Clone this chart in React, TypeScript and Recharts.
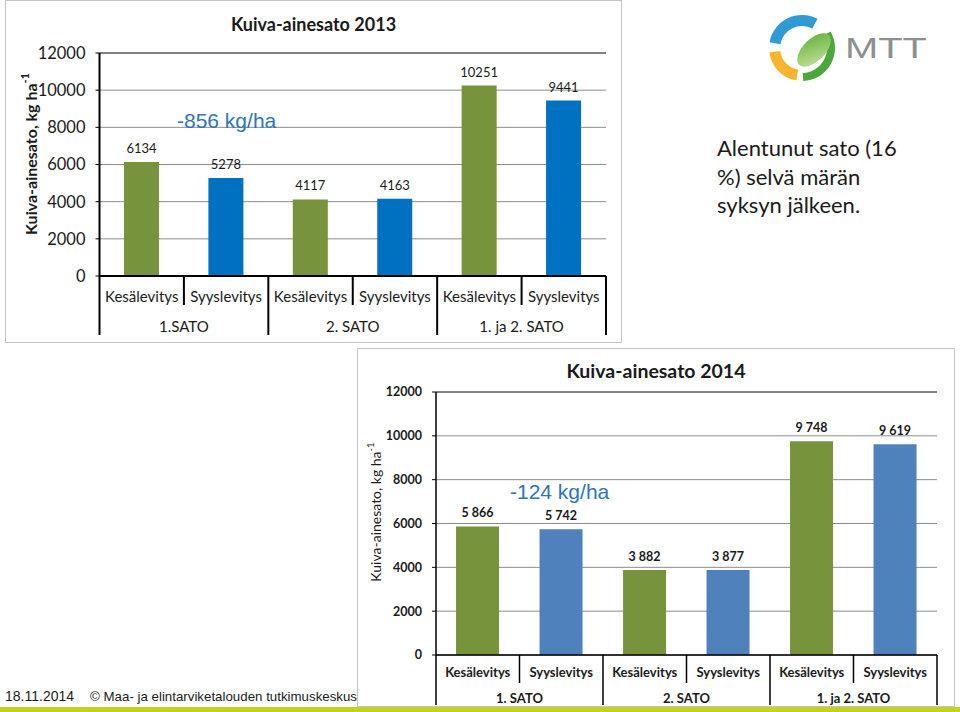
import React from "react";
import { Bar, BarChart, CartesianGrid, Cell, LabelList, ReferenceLine, XAxis, YAxis } from "recharts";

const CATEGORIES = ["Kesälevitys", "Syyslevitys", "Kesälevitys", "Syyslevitys", "Kesälevitys", "Syyslevitys"];
const GROUPS_2013 = ["1.SATO", "1.SATO", "2. SATO", "2. SATO", "1. ja 2. SATO", "1. ja 2. SATO"];
const GROUPS_2014 = ["1. SATO", "1. SATO", "2. SATO", "2. SATO", "1. ja 2. SATO", "1. ja 2. SATO"];
const YIELD_2013 = [6134, 5278, 4117, 4163, 10251, 9441];
const YIELD_2014 = [5866, 5742, 3882, 3877, 9748, 9619];
const Y_TICKS = [0, 2000, 4000, 6000, 8000, 10000, 12000];

const CALIBRI = "Lato, 'Open Sans', sans-serif";
const ARIAL = "'Liberation Sans', Arial, sans-serif";
const GREEN = "#77933C";

interface Row {
  cat: string;
  group: string;
  v: number;
}

interface ChartCfg {
  width: number;
  height: number;
  margin: { top: number; right: number; bottom: number; left: number };
  yWidth: number;
  catH: number;
  grpH: number;
  gap: string;
  blue: string;
  bold: boolean;
  catSize: number;
  tickSize: number;
  labelSize: number;
  catDy: number;
  grpDy: number;
  axisW: number;
  fmt?: (v: number) => string;
}

const toRows = (groups: string[], values: number[]): Row[] =>
  CATEGORIES.map((cat, i) => ({ cat, group: groups[i], v: values[i] }));

const spaced = (v: number) => String(v).replace(/\B(?=(\d{3})+(?!\d))/g, "\u00a0");

function YieldChart({ data, cfg }: { data: Row[]; cfg: ChartCfg }) {
  const plotW = cfg.width - cfg.margin.left - cfg.margin.right - cfg.yWidth;
  const bw = plotW / data.length;
  const full = cfg.catH + cfg.grpH;
  const weight = cfg.bold ? 700 : 400;

  const CatTick = (p: any) => {
    const { x, y, index, payload } = p;
    const left = x - bw / 2;
    return (
      <g>
        <line x1={left} x2={left} y1={y} y2={y + (index % 2 === 0 ? full : cfg.catH)} stroke="#000" strokeWidth={cfg.axisW} />
        {index === data.length - 1 && (
          <line x1={x + bw / 2} x2={x + bw / 2} y1={y} y2={y + full} stroke="#000" strokeWidth={cfg.axisW} />
        )}
        <text x={x} y={y + cfg.catDy} textAnchor="middle" fontFamily={CALIBRI} fontSize={cfg.catSize} fontWeight={weight} fill="#1a1a1a">
          {payload.value}
        </text>
      </g>
    );
  };

  const GroupTick = (p: any) => (
    <text x={p.x} y={p.y + cfg.grpDy} textAnchor="middle" fontFamily={CALIBRI} fontSize={cfg.catSize} fontWeight={weight} fill="#1a1a1a">
      {p.payload.value}
    </text>
  );

  return (
    <BarChart width={cfg.width} height={cfg.height} data={data} margin={cfg.margin} barCategoryGap={cfg.gap}>
      <CartesianGrid vertical={false} stroke="#8c8c8c" />
      <XAxis
        dataKey="cat"
        height={cfg.catH}
        interval={0}
        tickSize={0}
        tickMargin={0}
        tickLine={false}
        axisLine={{ stroke: "#000", strokeWidth: cfg.axisW }}
        tick={<CatTick />}
      />
      <XAxis
        xAxisId="grp"
        dataKey="group"
        allowDuplicatedCategory={false}
        height={cfg.grpH}
        interval={0}
        tickSize={0}
        tickMargin={0}
        tickLine={false}
        axisLine={false}
        tick={<GroupTick />}
      />
      <YAxis
        width={cfg.yWidth}
        domain={[0, 12000]}
        ticks={Y_TICKS}
        interval={0}
        tickSize={4}
        tickMargin={10}
        axisLine={{ stroke: "#000", strokeWidth: cfg.axisW }}
        tickLine={{ stroke: "#000" }}
        tick={{ fill: "#1a1a1a", fontSize: cfg.tickSize, fontFamily: CALIBRI, fontWeight: weight }}
      />
      <YAxis yAxisId="r" orientation="right" width={0} domain={[0, 1]} tick={false} tickLine={false} axisLine={{ stroke: "#404040" }} />
      <ReferenceLine y={12000} stroke="#404040" />
      <Bar dataKey="v" isAnimationActive={false}>
        {data.map((d, i) => (
          <Cell key={i} fill={i % 2 === 0 ? GREEN : cfg.blue} />
        ))}
        <LabelList
          dataKey="v"
          position="top"
          offset={9}
          fill="#1a1a1a"
          fontSize={cfg.labelSize}
          fontFamily={CALIBRI}
          fontWeight={weight}
          formatter={(v: any) => (cfg.fmt ? cfg.fmt(Number(v)) : String(v))}
        />
      </Bar>
    </BarChart>
  );
}

const CFG_2013: ChartCfg = {
  width: 617,
  height: 343,
  margin: { top: 53, right: 16, bottom: 8, left: 0 },
  yWidth: 94.5,
  catH: 29,
  grpH: 30,
  gap: "29%",
  blue: "#0070C0",
  bold: false,
  catSize: 15,
  tickSize: 16.5,
  labelSize: 13,
  catDy: 26,
  grpDy: 27,
  axisW: 2,
};

const CFG_2014: ChartCfg = {
  width: 598,
  height: 358,
  margin: { top: 44, right: 18, bottom: 1, left: 0 },
  yWidth: 79,
  catH: 28,
  grpH: 22,
  gap: "24%",
  blue: "#4F81BD",
  bold: true,
  catSize: 13,
  tickSize: 12.5,
  labelSize: 12.5,
  catDy: 21.5,
  grpDy: 19.5,
  axisW: 1.5,
  fmt: spaced,
};

function arc(cx: number, cy: number, r0: number, r1: number, a0: number, a1: number) {
  const pt = (r: number, a: number) => [cx + r * Math.cos((a * Math.PI) / 180), cy + r * Math.sin((a * Math.PI) / 180)];
  const large = a1 - a0 > 180 ? 1 : 0;
  const [x0, y0] = pt(r1, a0);
  const [x1, y1] = pt(r1, a1);
  const [x2, y2] = pt(r0, a1);
  const [x3, y3] = pt(r0, a0);
  return `M${x0},${y0} A${r1},${r1} 0 ${large} 1 ${x1},${y1} L${x2},${y2} A${r0},${r0} 0 ${large} 0 ${x3},${y3} Z`;
}

function Logo() {
  return (
    <svg width={180} height={80} style={{ position: "absolute", left: 760, top: 8 }}>
      <defs>
        <linearGradient id="leaf" x1="0" y1="1" x2="1" y2="0">
          <stop offset="0" stopColor="#c9e3a0" />
          <stop offset="1" stopColor="#5fae36" />
        </linearGradient>
      </defs>
      <path d={arc(42, 40, 22, 33, -170, -62)} fill="#2e9bd6" />
      <path d={arc(42, 40, 22, 33, 100, 172)} fill="#f5b52e" />
      <path d={arc(42, 40, 25, 33, -30, 88)} fill="#4aa83a" />
      <ellipse cx={54} cy={42} rx={21} ry={11} transform="rotate(-45 54 42)" fill="url(#leaf)" />
      <text x={85} y={50} fontFamily={ARIAL} fontSize={29} fill="#8c9091" textLength={82} lengthAdjust="spacingAndGlyphs">
        MTT
      </text>
    </svg>
  );
}

function YTitle({ left, top, cx, cy, size, bold }: { left: number; top: number; cx: number; cy: number; size: number; bold: boolean }) {
  return (
    <svg width={40} height={260} style={{ position: "absolute", left, top }}>
      <text
        x={cx}
        y={cy}
        transform={`rotate(-90 ${cx} ${cy})`}
        textAnchor="middle"
        dominantBaseline="central"
        fontFamily={CALIBRI}
        fontSize={size}
        fontWeight={bold ? 700 : 400}
        fill="#1a1a1a"
      >
        Kuiva-ainesato, kg ha
        <tspan dy={-size * 0.35} fontSize={size * 0.68}>-1</tspan>
      </text>
    </svg>
  );
}

const panel = (left: number, top: number, width: number, height: number): React.CSSProperties => ({
  position: "absolute",
  left,
  top,
  width,
  height,
  boxSizing: "border-box",
  border: "1.5px solid #c4c4c4",
  background: "#fff",
});

export default function App() {
  const rows2013 = toRows(GROUPS_2013, YIELD_2013);
  const rows2014 = toRows(GROUPS_2014, YIELD_2014);

  return (
    <div style={{ position: "absolute", left: 0, top: 0, width: 960, height: 712, overflow: "hidden", background: "#fff" }}>
      {/* footer */}
      <div style={{ position: "absolute", left: 5, top: 688, fontFamily: ARIAL, fontSize: 14, color: "#1a1a1a", whiteSpace: "nowrap" }}>
        18.11.2014
        <span style={{ marginLeft: 16, fontSize: 13.3 }}>© Maa- ja elintarviketalouden tutkimuskeskus</span>
      </div>
      <div style={{ position: "absolute", left: 0, top: 707, width: 960, height: 5, background: "#c4d21f" }} />

      <Logo />
      <div style={{ position: "absolute", left: 717, top: 134, fontFamily: CALIBRI, fontSize: 22, lineHeight: "28.5px", color: "#1a1a1a" }}>
        Alentunut sato (16
        <br />
        %) selvä märän
        <br />
        syksyn jälkeen.
      </div>

      {/* 2013 */}
      <div style={panel(5, 0, 617, 343)} />
      <div style={{ position: "absolute", left: 5, top: 0 }}>
        <YieldChart data={rows2013} cfg={CFG_2013} />
      </div>
      <div style={{ position: "absolute", left: 5, top: 13, width: 617, textAlign: "center", fontFamily: CALIBRI, fontWeight: 700, fontSize: 18, color: "#1a1a1a" }}>
        Kuiva-ainesato 2013
      </div>
      <YTitle left={10} top={20} cx={20} cy={134} size={16} bold />
      <div style={{ position: "absolute", left: 177, top: 109, fontFamily: ARIAL, fontSize: 21, color: "#2E75B6" }}>-856 kg/ha</div>

      {/* 2014 */}
      <div style={panel(357, 348, 598, 359)} />
      <div style={{ position: "absolute", left: 357, top: 348 }}>
        <YieldChart data={rows2014} cfg={CFG_2014} />
      </div>
      <div style={{ position: "absolute", left: 357, top: 359, width: 598, textAlign: "center", fontFamily: CALIBRI, fontWeight: 700, fontSize: 19.5, color: "#1a1a1a" }}>
        Kuiva-ainesato 2014
      </div>
      <YTitle left={355} top={380} cx={20} cy={132} size={14} bold={false} />
      <div style={{ position: "absolute", left: 510, top: 480, fontFamily: ARIAL, fontSize: 21, color: "#2E75B6" }}>-124 kg/ha</div>
    </div>
  );
}
